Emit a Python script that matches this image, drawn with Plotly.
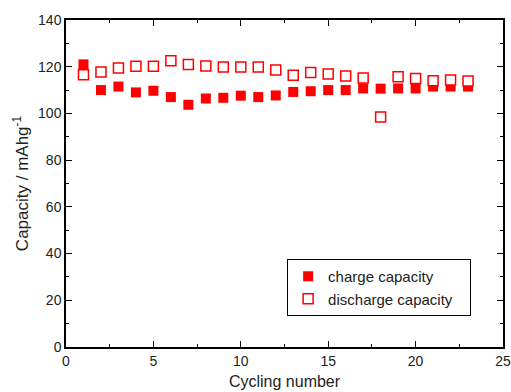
import plotly.graph_objects as go

cycles = list(range(1, 24))
charge = [121, 110, 111.5, 109, 109.7, 107, 103.7, 106.4, 106.7, 107.6, 107, 107.7,
          109.2, 109.5, 110, 110, 110.7, 110.6, 110.7, 110.7, 111.5, 111.5, 111.5]
discharge = [116.6, 117.7, 119.5, 120.2, 120.2, 122.6, 120.9, 120.3, 119.9, 119.9, 119.9, 118.6,
             116.3, 117.5, 116.9, 116.0, 115.2, 98.5, 115.7, 115.0, 114.0, 114.3, 113.9]

RED = "#ff0000"
FONT = "Arial, Liberation Sans"
fig = go.Figure()
fig.add_trace(go.Scatter(x=cycles, y=charge, mode="markers", name="charge capacity",
                         marker=dict(symbol="square", size=10, color=RED, line=dict(width=0))))
fig.add_trace(go.Scatter(x=cycles, y=discharge, mode="markers", name="discharge capacity\u00a0\u00a0\u00a0",
                         marker=dict(symbol="square", size=10, color="white",
                                     line=dict(width=1.5, color=RED))))

axis_common = dict(showline=True, linecolor="black", linewidth=1.5, mirror="ticks",
                   ticks="inside", ticklen=6, tickwidth=1.2, tickcolor="black",
                   showgrid=False, zeroline=False, automargin=False,
                   tickfont=dict(family=FONT, size=14, color="#222"),
                   minor=dict(ticks="inside", ticklen=3, tickwidth=1, tickcolor="black"))

fig.update_xaxes(range=[0, 25], dtick=5, tick0=0, minor_dtick=2.5,
                 title=dict(text="Cycling number", font=dict(family=FONT, size=16, color="#222"), standoff=8),
                 **axis_common)
fig.update_yaxes(range=[0, 140], dtick=20, tick0=0, minor_dtick=10,
                 title=dict(text="Capacity / mAhg<sup>-1</sup>", font=dict(family=FONT, size=17, color="#222"), standoff=5),
                 **axis_common)

fig.update_layout(width=511, height=392, margin=dict(l=66, r=8, t=20, b=45),
                  paper_bgcolor="white", plot_bgcolor="white",
                  font=dict(family=FONT, size=14, color="#222"),
                  legend=dict(x=0.506, y=0.269, xanchor="left", yanchor="top",
                              bordercolor="black", borderwidth=1, bgcolor="white",
                              font=dict(family=FONT, size=15, color="#222"),
                              itemwidth=30, tracegroupgap=0),
                  showlegend=True)

fig.write_html("out.html")
